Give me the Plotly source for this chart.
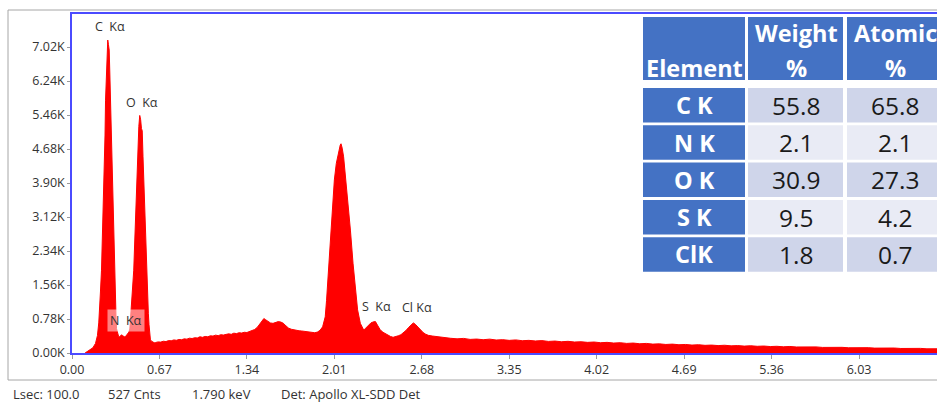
import plotly.graph_objects as go

# ---------------- data ----------------
ENERGY = [
    0.10, 0.12, 0.14, 0.16, 0.18, 0.195, 0.205, 0.212, 0.218, 0.226, 0.232, 0.239, 0.244, 0.249,
    0.253, 0.257, 0.262, 0.267, 0.271, 0.274, 0.279, 0.285, 0.290, 0.295, 0.300, 0.305, 0.310,
    0.315, 0.320, 0.325, 0.329, 0.333, 0.337, 0.341, 0.348, 0.356, 0.364, 0.372, 0.380, 0.388,
    0.396, 0.404, 0.412, 0.420, 0.428, 0.436, 0.443, 0.449, 0.455, 0.460, 0.466, 0.473, 0.480,
    0.486, 0.492, 0.499, 0.505, 0.512, 0.519, 0.526, 0.532, 0.538, 0.544, 0.550, 0.556, 0.563,
    0.570, 0.575, 0.580, 0.585, 0.590, 0.596, 0.601, 0.610, 0.620, 0.630,
    0.64, 0.66, 0.68, 0.70, 0.72, 0.74, 0.76, 0.78, 0.80, 0.82, 0.84, 0.86, 0.88, 0.90, 0.92,
    0.94, 0.96, 0.98, 1.00, 1.02, 1.04, 1.06, 1.08, 1.10, 1.12, 1.14, 1.16, 1.18, 1.20, 1.22,
    1.24, 1.26, 1.28, 1.30, 1.32, 1.34, 1.36, 1.38, 1.40, 1.42, 1.44, 1.46, 1.47, 1.48, 1.50,
    1.52, 1.54, 1.56, 1.58, 1.60, 1.62, 1.64, 1.66, 1.68, 1.70, 1.72, 1.74, 1.76, 1.78, 1.80,
    1.82, 1.84, 1.86, 1.88, 1.90, 1.92, 1.94, 1.95, 1.96, 1.975, 1.99, 2.01, 2.025, 2.043,
    2.055, 2.061, 2.07, 2.081, 2.094, 2.112, 2.133, 2.153, 2.171, 2.188, 2.209, 2.225, 2.235,
    2.25, 2.27, 2.29, 2.31, 2.325, 2.34, 2.36, 2.38, 2.40, 2.42, 2.44, 2.46, 2.48, 2.50, 2.52,
    2.54, 2.56, 2.58, 2.60, 2.615, 2.63, 2.65, 2.67, 2.69, 2.71, 2.73, 2.76, 2.80, 2.85, 2.90,
    2.95, 3.00, 3.05, 3.10, 3.15, 3.20, 3.25, 3.30, 3.35, 3.40, 3.45, 3.50, 3.55, 3.60, 3.65,
    3.70, 3.75, 3.80, 3.85, 3.90, 3.95, 4.00, 4.05, 4.10, 4.15, 4.20, 4.25, 4.30, 4.35, 4.40,
    4.45, 4.50, 4.55, 4.60, 4.65, 4.70, 4.75, 4.80, 4.85, 4.90, 4.95, 5.00, 5.05, 5.10, 5.15,
    5.20, 5.25, 5.30, 5.35, 5.40, 5.45, 5.50, 5.55, 5.60, 5.65, 5.70, 5.75, 5.80, 5.85, 5.90,
    5.95, 6.00, 6.05, 6.10, 6.15, 6.20, 6.25, 6.30, 6.35, 6.40, 6.45, 6.50, 6.55, 6.60, 6.65,
    6.70,
]
COUNTS = [
    0, 35, 70, 120, 220, 400, 690, 1000, 1400, 1900, 2500, 3100, 3700, 4200,
    5000, 5800, 6400, 6900, 7100, 7180, 7080, 6950, 6400, 5800, 5000, 4200, 3500,
    2820, 2300, 1830, 1500, 1200, 850, 560, 460, 390, 370, 400, 420, 395,
    380, 370, 385, 410, 440, 480, 550, 800, 1000, 1216, 1500, 1900, 2500,
    3100, 3700, 4200, 4800, 5200, 5450, 5350, 5150, 5100, 4500, 3900, 3300, 2670,
    1900, 1500, 1200, 900, 650, 450, 300, 270, 250, 235,
    240, 255, 250, 270, 262, 285, 280, 300, 292, 310, 305, 325, 318, 340, 332,
    350, 345, 372, 360, 380, 372, 395, 388, 410, 398, 420, 412, 430, 440, 428,
    455, 445, 465, 458, 475, 470, 492, 500, 540, 590, 680, 740, 790, 770, 720,
    690, 680, 700, 720, 710, 680, 620, 570, 545, 530, 520, 510, 505, 495, 490,
    480, 470, 465, 480, 520, 600, 830, 1200, 1680, 2440, 3200, 3970, 4350, 4660,
    4770, 4800, 4700, 4500, 4120, 3590, 2820, 2060, 1450, 990, 680, 560, 525,
    570, 640, 690, 715, 720, 640, 540, 480, 440, 410, 380, 360, 370, 395, 420,
    460, 520, 590, 660, 690, 660, 590, 530, 470, 430, 405, 390, 372, 350, 338,
    325, 335, 312, 320, 305, 318, 298, 306, 290, 300, 282, 290, 276, 284, 266,
    274, 258, 268, 252, 258, 244, 252, 236, 244, 228, 236, 220, 228, 212, 220,
    204, 210, 196, 204, 190, 196, 182, 190, 176, 182, 170, 178, 164, 170, 158,
    166, 154, 160, 148, 154, 142, 150, 138, 144, 134, 140, 128, 134, 124, 130,
    120, 126, 116, 122, 112, 118, 108, 114, 104, 110, 100, 106, 96, 102, 94,
    98,
]

X_TICKS = [0.00, 0.67, 1.34, 2.01, 2.68, 3.35, 4.02, 4.69, 5.36, 6.03]
X_TICK_TEXT = ["0.00", "0.67", "1.34", "2.01", "2.68", "3.35", "4.02", "4.69", "5.36", "6.03"]
Y_TICKS = [0, 780, 1560, 2340, 3120, 3900, 4680, 5460, 6240, 7020]
Y_TICK_TEXT = ["0.00K", "0.78K", "1.56K", "2.34K", "3.12K", "3.90K", "4.68K", "5.46K", "6.24K", "7.02K"]

PEAK_LABELS = ["C\u00a0 K\u03b1", "O\u00a0 K\u03b1", "S\u00a0 K\u03b1", "Cl K\u03b1"]
PEAK_LABEL_E = [0.292, 0.540, 2.331, 2.643]
PEAK_LABEL_C = [7500, 5750, 1060, 1040]
N_LABEL = "N\u00a0 K\u03b1"
N_LABEL_E = 0.414
N_LABEL_C = 757

TABLE_HEADER_1 = ["", "Weight", "Atomic"]
TABLE_HEADER_2 = ["Element", "%", "%"]
ELEMENTS = ["C K", "N K", "O K", "S K", "ClK"]
WEIGHT_PCT = ["55.8", "2.1", "30.9", "9.5", "1.8"]
ATOMIC_PCT = ["65.8", "2.1", "27.3", "4.2", "0.7"]

FOOTER = ["Lsec: 100.0", "527 Cnts", "1.790 keV", "Det: Apollo XL-SDD Det"]

# ---------------- layout geometry (pixels) ----------------
W, H = 937, 404
L, R, T, B = 72, 937, 14, 353
PW, PH = R - L, B - T


def px(x):
    return (x - L) / PW


def py(y):
    return (B - y) / PH


BLUE = "#4B4BFF"
TXT = "#333333"
FONT = "Open Sans, Noto Sans, sans-serif"

fig = go.Figure()
fig.add_trace(go.Scatter(
    x=ENERGY, y=COUNTS, mode="lines", fill="tozeroy",
    fillcolor="#FF0000", line=dict(color="#FF0000", width=1),
    hoverinfo="skip", showlegend=False,
))

annotations = []
shapes = []


def note(x, y, text, size, color, xanchor="center", bg=None, ref="paper"):
    d = dict(x=x, y=y, xref="paper" if ref == "paper" else "x",
             yref="paper" if ref == "paper" else "y", text=text,
             showarrow=False, xanchor=xanchor, yanchor="middle",
             font=dict(family=FONT, size=size, color=color))
    if bg:
        d["bgcolor"] = bg
        d["borderpad"] = 2
    annotations.append(d)


# peak labels
for t, e, c in zip(PEAK_LABELS, PEAK_LABEL_E, PEAK_LABEL_C):
    note(e, c, t, 12.5, TXT, ref="data")
note(N_LABEL_E, N_LABEL_C, N_LABEL, 12.5, TXT, bg="rgba(255,255,255,0.5)", ref="data")

# outer gray frame
shapes.append(dict(type="rect", xref="paper", yref="paper", x0=px(8), x1=px(960),
                   y0=py(380), y1=py(10), line=dict(color="#A6A6A6", width=1), layer="below"))

# table
col_edges = [(643, 745), (748, 843), (847, 950)]
col_centers = [694, 796, 895]
head_top, head_bot = 17, 80
row_top0, row_h, row_step = 88, 34.5, 37.3
HEAD_BLUE = "#4472C4"
ROW_COLORS = ["#CFD5EA", "#E9EBF5"]

for (x0, x1) in col_edges:
    shapes.append(dict(type="rect", xref="paper", yref="paper", x0=px(x0), x1=px(x1),
                       y0=py(head_bot), y1=py(head_top), fillcolor=HEAD_BLUE,
                       line=dict(width=0), layer="above"))
for i, (h1, h2) in enumerate(zip(TABLE_HEADER_1, TABLE_HEADER_2)):
    if h1:
        note(px(col_centers[i]), py(33), "<b>%s</b>" % h1, 23.5, "white")
    note(px(col_centers[i]), py(68), "<b>%s</b>" % h2, 23.5, "white")

for r, (el, w, a) in enumerate(zip(ELEMENTS, WEIGHT_PCT, ATOMIC_PCT)):
    y0 = row_top0 + r * row_step
    y1 = y0 + row_h
    yc = (y0 + y1) / 2
    for c, (x0, x1) in enumerate(col_edges):
        fill = HEAD_BLUE if c == 0 else ROW_COLORS[r % 2]
        shapes.append(dict(type="rect", xref="paper", yref="paper", x0=px(x0), x1=px(x1),
                           y0=py(y1), y1=py(y0), fillcolor=fill, line=dict(width=0),
                           layer="above"))
    note(px(col_centers[0]), py(yc), "<b>%s</b>" % el, 23.5, "white")
    note(px(col_centers[1]), py(yc), w, 24.5, "#1A1A1A")
    note(px(col_centers[2]), py(yc), a, 24.5, "#1A1A1A")

# footer
footer_x = [11, 106, 190, 279]
for t, x in zip(FOOTER, footer_x):
    note(px(x), py(394), t, 13, TXT, xanchor="left")

fig.update_layout(
    width=W, height=H,
    margin=dict(l=L, r=W - R, t=T, b=H - B),
    paper_bgcolor="white", plot_bgcolor="white",
    showlegend=False,
    annotations=annotations, shapes=shapes,
    xaxis=dict(range=[0, (R - 71.5) / 130.6], tickvals=X_TICKS, ticktext=X_TICK_TEXT,
               showgrid=False, zeroline=False, showline=True, linecolor=BLUE, linewidth=1.5,
               mirror=True, ticks="outside", ticklen=4, tickcolor="#9A9A9A",
               tickfont=dict(family=FONT, size=12.5, color=TXT)),
    yaxis=dict(range=[0, 7777], tickvals=Y_TICKS, ticktext=Y_TICK_TEXT,
               showgrid=False, zeroline=False, showline=True, linecolor=BLUE, linewidth=1.5,
               ticks="outside", ticklen=3, tickcolor="#9A9A9A",
               tickfont=dict(family=FONT, size=12.5, color=TXT)),
)

fig.write_html("out.html")
